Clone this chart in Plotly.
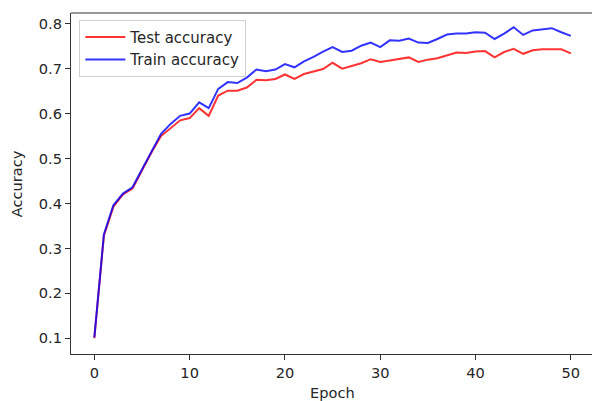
import plotly.graph_objects as go

# Per-epoch accuracy over 51 epochs of training
epochs = list(range(51))

test_accuracy = [
    0.100, 0.328, 0.393, 0.420, 0.433, 0.475, 0.514, 0.550, 0.568, 0.585,
    0.590, 0.612, 0.595, 0.640, 0.651, 0.651, 0.658, 0.675, 0.674, 0.677,
    0.687, 0.677, 0.688, 0.694, 0.699, 0.713, 0.700, 0.706, 0.712, 0.721,
    0.715, 0.718, 0.722, 0.725, 0.715, 0.720, 0.723, 0.729, 0.736, 0.735,
    0.738, 0.739, 0.725, 0.737, 0.744, 0.733, 0.741, 0.743, 0.743, 0.743,
    0.734,
]

train_accuracy = [
    0.102, 0.331, 0.396, 0.422, 0.436, 0.476, 0.516, 0.555, 0.577, 0.595,
    0.600, 0.625, 0.612, 0.655, 0.670, 0.668, 0.680, 0.698, 0.694, 0.698,
    0.710, 0.703, 0.716, 0.726, 0.738, 0.748, 0.737, 0.740, 0.751, 0.758,
    0.748, 0.763, 0.762, 0.767, 0.758, 0.757, 0.766, 0.776, 0.778, 0.778,
    0.781, 0.780, 0.766, 0.778, 0.792, 0.775, 0.785, 0.787, 0.790, 0.781,
    0.773,
]

x_ticks = [0, 10, 20, 30, 40, 50]
y_ticks = [0.1, 0.2, 0.3, 0.4, 0.5, 0.6, 0.7, 0.8]
y_tick_labels = ["0.1", "0.2", "0.3", "0.4", "0.5", "0.6", "0.7", "0.8"]

FONT = "DejaVu Sans"
TEXT = "#262626"
SPINE = "#333333"
SIZE = 14.6

fig = go.Figure()
fig.add_trace(go.Scatter(
    x=epochs, y=test_accuracy, mode="lines", name="Test accuracy",
    line=dict(color="rgba(255,0,0,0.8)", width=2),
))
fig.add_trace(go.Scatter(
    x=epochs, y=train_accuracy, mode="lines", name="Train accuracy",
    line=dict(color="rgba(0,0,255,0.8)", width=2),
))

fig.update_layout(
    width=592, height=401,
    margin=dict(l=71, r=0, t=13, b=47),
    paper_bgcolor="white", plot_bgcolor="white",
    font=dict(family=FONT, size=SIZE, color=TEXT),
    showlegend=True,
    legend=dict(
        x=0.016, y=0.98, xanchor="left", yanchor="top",
        bgcolor="rgba(255,255,255,0.8)", bordercolor="#d0d0d0", borderwidth=1,
        font=dict(family=FONT, size=15, color=TEXT),
        itemwidth=40,
    ),
    xaxis=dict(
        range=[-2.45, 52.22], tickvals=x_ticks,
        showgrid=False, zeroline=False,
        showline=True, linecolor=SPINE, linewidth=1.1,
        ticks="outside", ticklen=5, tickwidth=1.1, tickcolor=SPINE,
        tickfont=dict(family=FONT, size=SIZE, color=TEXT),
    ),
    yaxis=dict(
        range=[0.065, 0.8238], tickvals=y_ticks, ticktext=y_tick_labels,
        showgrid=False, zeroline=False,
        showline=True, linecolor=SPINE, linewidth=1.1,
        ticks="outside", ticklen=5, tickwidth=1.1, tickcolor=SPINE,
        tickfont=dict(family=FONT, size=SIZE, color=TEXT),
    ),
    shapes=[
        # top spine
        dict(type="line", xref="paper", yref="paper", x0=0, x1=1, y0=1, y1=1,
             line=dict(color=SPINE, width=1.1)),
    ],
    annotations=[
        dict(text="Epoch", xref="paper", yref="paper", x=0.502, y=-0.114,
             xanchor="center", yanchor="middle", showarrow=False,
             font=dict(family=FONT, size=SIZE, color=TEXT)),
        dict(text="Accuracy", xref="paper", yref="paper", x=-0.104, y=0.5,
             xanchor="center", yanchor="middle", textangle=-90, showarrow=False,
             font=dict(family=FONT, size=SIZE, color=TEXT)),
    ],
)

fig.write_html("out.html")
